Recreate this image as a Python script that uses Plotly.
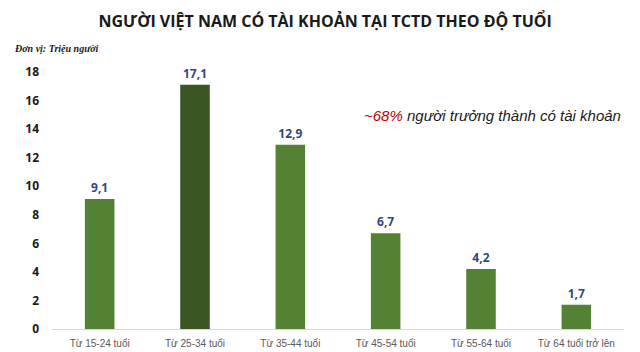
import plotly.graph_objects as go

categories = ["Từ 15-24 tuổi", "Từ 25-34 tuổi", "Từ 35-44 tuổi", "Từ 45-54 tuổi", "Từ 55-64 tuổi", "Từ 64 tuổi trở lên"]
values = [9.1, 17.1, 12.9, 6.7, 4.2, 1.7]
labels = ["9,1", "17,1", "12,9", "6,7", "4,2", "1,7"]
colors = ["#548235", "#3B5525", "#548235", "#548235", "#548235", "#548235"]
y_ticks = [0, 2, 4, 6, 8, 10, 12, 14, 16, 18]

fig = go.Figure(go.Bar(
    x=categories, y=values, marker=dict(color=colors, line=dict(width=0)),
    text=labels, textposition="outside", cliponaxis=False,
    textfont=dict(family="Open Sans", size=12, color="#2F4A7A", weight="bold"),
))

fig.update_layout(
    width=640, height=352, margin=dict(l=52, r=16, t=72, b=23),
    paper_bgcolor="white", plot_bgcolor="white", showlegend=False,
    bargap=0.69,
    title=dict(text="<b>NGƯỜI VIỆT NAM CÓ TÀI KHOẢN TẠI TCTD THEO ĐỘ TUỔI</b>",
               x=0.508, xanchor="center", y=0.94, yanchor="middle",
               font=dict(family="Open Sans", size=16, color="#1a1a1a")),
    xaxis=dict(showgrid=False, showline=True, linecolor="#D9D9D9", linewidth=1,
               ticks="", ticklabelstandoff=5, automargin=False,
               tickfont=dict(family="Liberation Sans", size=10, color="#595959")),
    yaxis=dict(range=[0, 18], tickvals=y_ticks, showgrid=False, zeroline=False,
               showline=False, ticks="", ticklabelstandoff=12, automargin=False,
               tickfont=dict(family="Open Sans", size=12, color="#1a1a1a", weight="bold")),
    annotations=[
        dict(text="<i>Đơn vị: Triệu người</i>", x=-0.07, y=1.09, xref="paper", yref="paper",
             xanchor="left", yanchor="middle", showarrow=False,
             font=dict(family="Liberation Serif", size=10, color="#1a1a1a", weight="bold")),
        dict(text="<i><span style='color:#C00000'>~68%</span> người trưởng thành có tài khoản</i>",
             x=0.998, y=0.83, xref="paper", yref="paper", xanchor="right", yanchor="middle",
             showarrow=False, font=dict(family="Liberation Sans", size=15, color="#1a1a1a")),
    ],
)
fig.write_html("out.html")
